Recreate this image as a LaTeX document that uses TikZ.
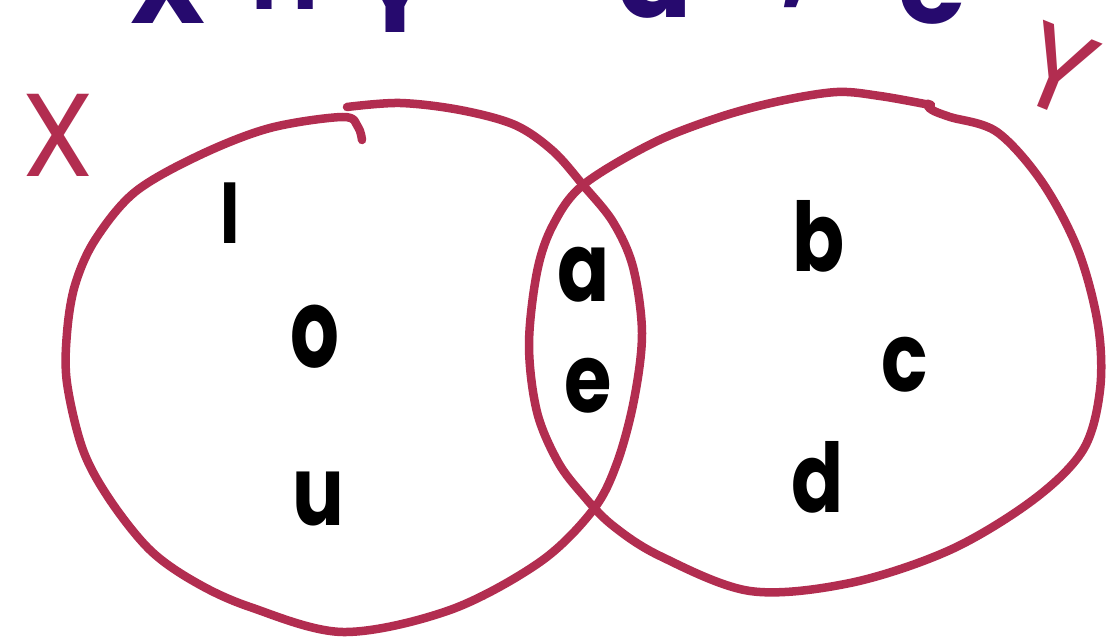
\documentclass[tikz,border=0pt]{standalone}
\usepackage{fontspec}
\newfontfamily\hand{Poppins}
\newfontfamily\symfont{DejaVu Sans}
\definecolor{vred}{RGB}{178,45,80}
\definecolor{vblue}{RGB}{38,10,110}
\begin{document}
\begin{tikzpicture}[x=1pt,y=-1pt,
  setline/.style={draw=vred,line width=8.5pt,line cap=round,line join=round},
  elem/.style={font=\hand\bfseries\fontsize{96}{96}\selectfont,text=black,inner sep=0pt,
    xscale=0.8,transform shape},
  setname/.style={font=\hand\fontsize{118}{120}\selectfont,text=vred,inner sep=0pt},
  titletext/.style={font=\hand\bfseries\fontsize{110}{120}\selectfont,text=vblue,inner sep=0pt,anchor=base}]
\useasboundingbox[fill=white] (0,0) rectangle (1109,644);

% title (cut off at the top of the picture)
\node[titletext] (t1) at (168,24) {X};
\node[titletext,font=\symfont\bfseries\fontsize{110}{120}\selectfont] (t2) at (285,10) {∩};
\node[titletext] (t3) at (395,33) {Y};
\node[titletext] (t4) at (500,-20) {=};
\node[titletext] (t5) at (570,-30) {\{};
\node[titletext] (t6) at (655,18) {a};
\node[titletext] (t7) at (797,-6) {,};
\node[titletext] (t8) at (932,24) {e};
\node[titletext] (t9) at (1010,-40) {\}};

% set X
\draw[setline] plot[smooth,tension=0.55] coordinates {
  (347,107) (400,103) (460,110) (515,125) (553,151) (583,185)
  (613,222) (633,267) (642,333) (634,400) (617,463) (593,510) (540,562)
  (450,610) (343,632) (250,607) (195,582) (150,550) (110,500)
  (83,450) (67,383) (67,333) (75,285) (95,240) (135,192)
  (200,155) (270,128) (343,117) (358,127) (362,140)};

% set Y
\draw[setline] plot[smooth,tension=0.55] coordinates {
  (925,104) (880,96) (837,92) (780,101) (720,117) (653,143)
  (583,185) (553,225) (537,272) (529,345) (537,412) (558,462) (583,495)
  (612,525) (660,556) (750,591) (850,583) (950,550) (1033,500) (1083,450)
  (1100,390) (1098,325) (1078,250) (1042,182) (997,132) (950,117)
  (932,110) (927,104) (931,105)};

% labels of the sets
\node[setname] (X) at (58,135) {X};
\node[setname,rotate=-22] (Y) at (1058,70) {Y};

% elements
\node[elem,font=\hand\bfseries\fontsize{82}{82}\selectfont] (ei) at (230,213) {l};
\node[elem,yscale=1.15] (eo) at (315,337) {o};
\node[elem] (eu) at (318,499) {u};
\node[elem] (ea) at (584,275) {a};
\node[elem] (ee) at (588,386) {e};
\node[elem] (eb) at (819,236) {b};
\node[elem] (ec) at (905,365) {c};
\node[elem] (ed) at (818,477) {d};
\end{tikzpicture}
\end{document}
